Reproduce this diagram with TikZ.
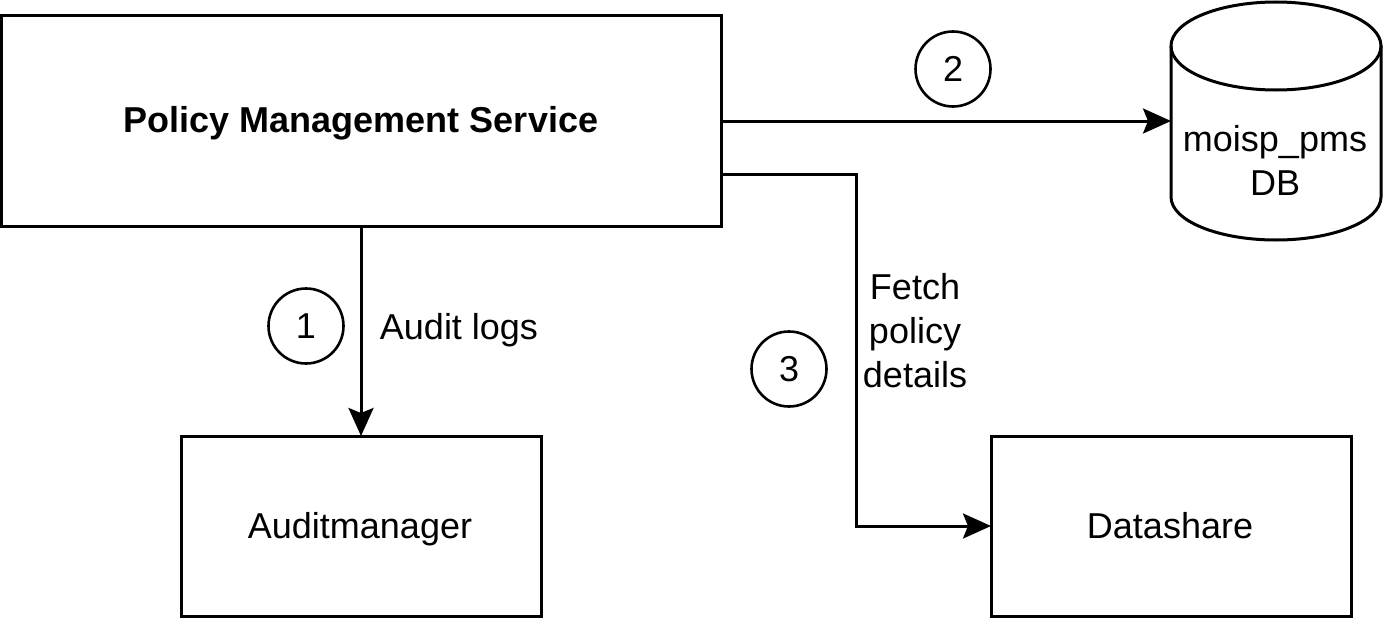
\documentclass[tikz,border=0pt]{standalone}
\usepackage{fontspec}
\setmainfont{Liberation Sans}
\usetikzlibrary{arrows.meta}
\tikzset{
  x=1pt,y=-1pt,
  every node/.style={font=\fontsize{36}{44}\selectfont},
  boxnode/.style={draw,line width=3pt,minimum width=#1,inner sep=0pt,outer sep=0pt},
  numcirc/.style={draw,circle,line width=2.6pt,minimum size=75pt,inner sep=0pt,outer sep=0pt},
  lbl/.style={align=center,inner sep=0pt},
  conn/.style={line width=3pt,-{Stealth[length=28pt,width=25pt,inset=5pt]}}
}
\begin{document}
\begin{tikzpicture}
\useasboundingbox (0,0) rectangle (1383,618);
\node[boxnode=720pt,minimum height=210pt] (pms) at (361,121) {};
\node[font=\fontsize{36}{44}\selectfont\bfseries,inner sep=0pt] (pmst) at (361,123) {Policy Management Service};
\node[boxnode=360pt,minimum height=180pt] (am) at (361,526) {};
\node[inner sep=0pt] (amt) at (360,529) {Auditmanager};
\node[boxnode=360pt,minimum height=180pt] (ds) at (1171,526) {};
\node[inner sep=0pt] (dst) at (1170,526) {Datashare};
\draw[line width=3pt] (1171,46) -- (1171,197) arc[x radius=105,y radius=43,start angle=180,end angle=0] -- (1381,46);
\draw[line width=3pt] (1276,46) ellipse[x radius=105,y radius=44];
\node[lbl] (db) at (1275,160) {moisp\_pms\\DB};
\coordinate (dbin) at (1171,121);
\coordinate (pmsa) at (721,121);
\coordinate (pmsb) at (721,174);
\draw[conn] (pmsa) -- (dbin);
\draw[conn] (pms.south) -- (am.north);
\draw[conn] (pmsb) -- (856,174) -- (856,526) -- (ds.west);
\node[numcirc] (c1) at (306,326) {1};
\node[numcirc] (c2) at (953,69) {2};
\node[numcirc] (c3) at (789,369) {3};
\node[lbl] (t1) at (459,330) {Audit logs};
\node[lbl] (t2) at (915,331) {Fetch\\policy\\details};
\end{tikzpicture}
\end{document}
